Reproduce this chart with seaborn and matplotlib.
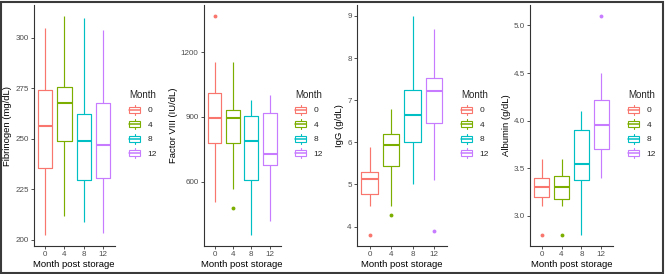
import matplotlib
matplotlib.use("Agg")
import matplotlib.pyplot as plt
from matplotlib.patches import Rectangle
from matplotlib.lines import Line2D
from matplotlib.legend_handler import HandlerBase
import pandas as pd
import seaborn as sns

months = ["0", "4", "8", "12"]
colors = ["#F8766D", "#7CAE00", "#00BFC4", "#C77CFF"]

# box summaries: whisker low, Q1, median, Q3, whisker high, outliers
fib_lo = [202.4, 211.6, 208.8, 203.4]
fib_q1 = [235.7, 248.9, 229.5, 230.4]
fib_med = [256.4, 267.5, 249.0, 247.1]
fib_q3 = [274.1, 275.4, 262.0, 267.6]
fib_hi = [304.8, 310.7, 309.7, 304.0]
fib_out = [[], [], [], []]

f8_lo = [507, 565, 353, 419]
f8_q1 = [781, 781, 609, 679]
f8_med = [894, 895, 788, 730]
f8_q3 = [1011, 934, 906, 918]
f8_hi = [1154, 1154, 980, 999]
f8_out = [[1367], [478], [], []]

igg_lo = [4.5, 4.5, 5.0, 5.1]
igg_q1 = [4.77, 5.44, 6.0, 6.45]
igg_med = [5.14, 5.94, 6.64, 7.21]
igg_q3 = [5.29, 6.19, 7.24, 7.53]
igg_hi = [5.89, 6.8, 9.0, 8.68]
igg_out = [[3.8], [4.28], [], [3.9]]

alb_lo = [3.1, 3.1, 2.8, 3.4]
alb_q1 = [3.2, 3.18, 3.38, 3.7]
alb_med = [3.3, 3.3, 3.55, 3.95]
alb_q3 = [3.4, 3.42, 3.9, 4.22]
alb_hi = [3.6, 3.6, 4.1, 4.5]
alb_out = [[2.8], [2.8], [], [5.1]]


def make_frame(lo, q1, med, q3, hi, out):
    # nine points per month whose quartiles/whiskers reproduce the boxes
    rows = []
    for i, m in enumerate(months):
        pts = [lo[i], lo[i], q1[i], med[i], med[i], med[i], q3[i], hi[i], hi[i]]
        for o in out[i]:
            if o < lo[i]:
                pts[0] = o
            else:
                pts[-1] = o
        rows += [(m, v) for v in pts]
    return pd.DataFrame(rows, columns=["Month", "value"])


class BoxKey(HandlerBase):
    def create_artists(self, legend, orig, xd, yd, w, h, fs, trans):
        c = orig.get_color()
        x0, y0 = -xd, -yd
        box = Rectangle((x0, y0 + h * 0.2), w, h * 0.6, fill=False, ec=c, lw=0.8, transform=trans)
        med = Line2D([x0, x0 + w], [y0 + h / 2] * 2, color=c, lw=1.1, transform=trans)
        w1 = Line2D([x0 + w / 2] * 2, [y0, y0 + h * 0.2], color=c, lw=0.8, transform=trans)
        w2 = Line2D([x0 + w / 2] * 2, [y0 + h * 0.8, y0 + h], color=c, lw=0.8, transform=trans)
        return [box, med, w1, w2]


sns.set_style("white")
plt.rcParams["font.family"] = ["Liberation Sans", "DejaVu Sans"]

W, H = 666, 274
fig = plt.figure(figsize=(W / 100, H / 100), dpi=100)

panels = [
    ("Fibrinogen (mg/dL)", make_frame(fib_lo, fib_q1, fib_med, fib_q3, fib_hi, fib_out),
     [200, 225, 250, 275, 300], "{:.0f}", (0, 100), 33.6, 114.6, 129),
    ("Factor VIII (IU/dL)", make_frame(f8_lo, f8_q1, f8_med, f8_q3, f8_hi, f8_out),
     [600, 900, 1200], "{:.0f}", 1.5, 203.5, 280.7, 295),
    ("IgG (g/dL)", make_frame(igg_lo, igg_q1, igg_med, igg_q3, igg_hi, igg_out),
     [4, 5, 6, 7, 8, 9], "{:.0f}", 1.5, 356.6, 447.0, 461),
    ("Albumin (g/dL)", make_frame(alb_lo, alb_q1, alb_med, alb_q3, alb_hi, alb_out),
     [3.0, 3.5, 4.0, 4.5, 5.0], "{:.1f}", 1.5, 529.7, 613.3, 628),
]

top, bottom = 5, 246
for ylab, df, yticks, fmt, whis, left, right, legx in panels:
    ax = fig.add_axes([left / W, 1 - bottom / H, (right - left) / W, (bottom - top) / H])
    sns.boxplot(data=df, x="Month", y="value", hue="Month", order=months, hue_order=months,
                palette=colors, fill=False, width=0.75, whis=whis, linewidth=0.85,
                showcaps=False, medianprops={"linewidth": 1.5},
                flierprops={"marker": "o", "markersize": 2.8}, legend=False, ax=ax)
    for ln in ax.lines:
        if ln.get_marker() not in ("None", None, ""):
            ln.set_markerfacecolor(ln.get_markeredgecolor())
            ln.set_markeredgewidth(0)
    ax.set_xlim(-0.6, 3.6)
    ax.margins(y=0.05)
    ax.set_yticks(yticks)
    ax.set_yticklabels([fmt.format(t) for t in yticks])
    sns.despine(ax=ax)
    for s in ("left", "bottom"):
        ax.spines[s].set_color("#333333")
        ax.spines[s].set_linewidth(0.8)
    ax.tick_params(axis="both", length=2, width=0.6, color="#333333", labelsize=5.8,
                   labelcolor="#4D4D4D", pad=1.5, left=True, bottom=True)
    ax.set_xlabel("Month post storage", fontsize=6.8, color="black", labelpad=1.5)
    ax.set_ylabel(ylab, fontsize=6.8, color="black", labelpad=2)

    handles = [Line2D([], [], color=c) for c in colors]
    leg = ax.legend(handles, months, title="Month", loc="upper left",
                    bbox_to_anchor=(legx / W, 1 - 90 / H), bbox_transform=fig.transFigure,
                    frameon=False, fontsize=6, title_fontsize=7, borderpad=0, borderaxespad=0,
                    handler_map={Line2D: BoxKey()}, handlelength=1.35, handleheight=1.45,
                    labelspacing=0.56, handletextpad=0.9, alignment="left")

fig.patches.append(Rectangle((1 / W, 1 / H), 662 / W, 271.5 / H, transform=fig.transFigure,
                             fill=False, ec="#3a3a3a", lw=1.5))

fig.savefig("out.png", dpi=100)
